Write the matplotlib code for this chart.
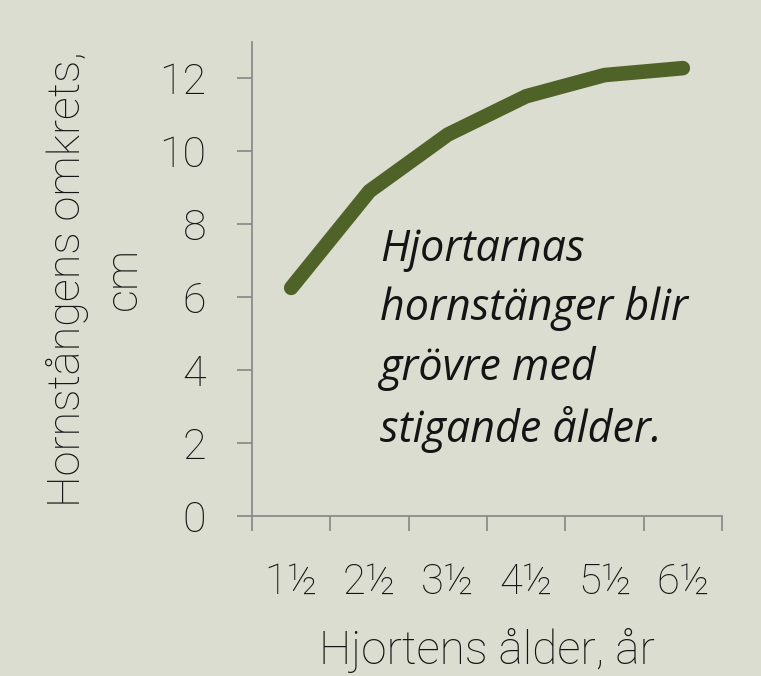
import matplotlib
matplotlib.use("Agg")
import matplotlib.pyplot as plt

# Data
ages = ["1½", "2½", "3½", "4½", "5½", "6½"]
circumference = [6.25, 8.9, 10.45, 11.5, 12.08, 12.27]

BG = "#dbddd0"
LINE = "#4f6228"
AXIS = "#8c8c8c"
TEXT = "#141414"
FONT = ["Roboto", "DejaVu Sans"]

fig = plt.figure(figsize=(7.61, 6.76), dpi=100, facecolor=BG)
ax = fig.add_axes([252 / 761, 1 - 516 / 676, 470 / 761, 474.5 / 676], facecolor=BG)

x = list(range(len(ages)))
ax.plot(x, circumference, color=LINE, lw=10.5, solid_capstyle="round", solid_joinstyle="round")

ax.set_xlim(-0.5, len(ages) - 0.5)
ax.set_ylim(0, 13)

for s in ["top", "right"]:
    ax.spines[s].set_visible(False)
for s in ["left", "bottom"]:
    ax.spines[s].set_color(AXIS)
    ax.spines[s].set_linewidth(1.3)

# y axis
ax.set_yticks(range(0, 13, 2))
ax.set_yticklabels([str(v) for v in range(0, 13, 2)], fontfamily=FONT, fontweight="light",
                   fontsize=31, color=TEXT)
ax.tick_params(axis="y", length=11, width=1.3, color=AXIS, pad=22)

# x axis: ticks between categories, labels at centers
ax.set_xticks([i - 0.5 for i in range(len(ages) + 1)])
ax.set_xticklabels([])
ax.tick_params(axis="x", which="major", length=11, width=1.3, color=AXIS)
ax.set_xticks(x, minor=True)
ax.set_xticklabels(ages, minor=True, fontfamily=FONT, fontweight="light", fontsize=30, color=TEXT)
ax.tick_params(axis="x", which="minor", length=0, pad=33)

ax.set_xlabel("Hjortens ålder, år", fontfamily=FONT, fontweight="light", fontsize=33,
              color=TEXT, labelpad=18)
ax.set_ylabel("Hornstångens omkrets,\ncm", fontfamily=FONT, fontweight="light", fontsize=32.5,
              color=TEXT, labelpad=10, linespacing=1.4)

ax.text(1.14, 7.9, "Hjortarnas\nhornstänger blir\ngrövre med\nstigande ålder.",
        fontfamily=["Open Sans", "DejaVu Sans"], style="italic", fontsize=31, color=TEXT,
        va="top", ha="left", linespacing=1.42)

fig.savefig("out.png", dpi=100, facecolor=BG)
